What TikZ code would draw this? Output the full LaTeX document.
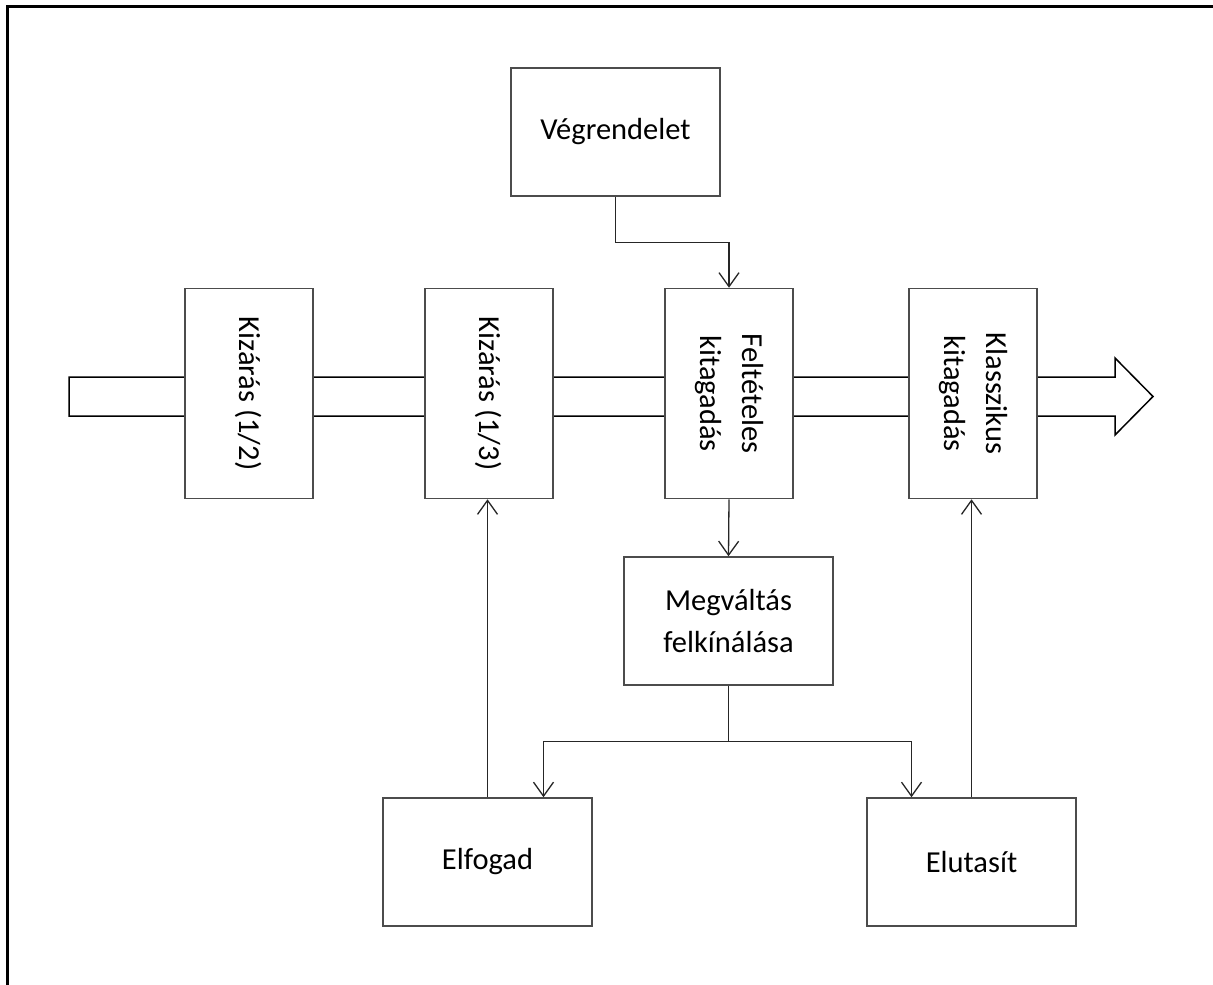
\documentclass[tikz,border=0pt]{standalone}
\usepackage{fontspec}
\setmainfont{Carlito}
\usetikzlibrary{arrows.meta}
\tikzset{
  upbox/.style={rotate=-90,minimum width=210,minimum height=128},
  flatbox/.style={minimum width=209,minimum height=128},
  conn/.style={draw=black!85,line width=1.3pt},
  >={Straight Barb[length=14pt,width=20pt]}
}
\begin{document}
\begin{tikzpicture}[x=1pt,y=-1pt]
  \useasboundingbox (0,0) rectangle (1213,985);
  \draw[line width=3pt] (7.5,985) -- (7.5,6.5) -- (1213,6.5);
  % hollow arrow behind the boxes
  \draw[line width=1.5pt,line join=miter] (69,377) -- (1115,377) -- (1115,358)
    -- (1153,396.5) -- (1115,435) -- (1115,416) -- (69,416) -- cycle;
  \begin{scope}[every node/.style={draw=black!70,line width=1.5pt,fill=white,
      font=\fontsize{30.5}{42}\selectfont,align=center}]
  \node[upbox] (kiz1) at (249,393.5) {Kizárás (1/2)};
  \node[upbox] (kiz2) at (489,393.5) {Kizárás (1/3)};
  \node[upbox] (felt) at (729,393.5) {Feltételes\\kitagadás};
  \node[upbox] (klassz) at (973,393.5) {Klasszikus\\kitagadás};
  \node[flatbox] (vegr) at (615.5,132) {Végrendelet};
  \node[flatbox] (megv) at (728.5,621) {Megváltás\\felkínálása};
  \node[flatbox] (elfog) at (487.5,862) {Elfogad};
  \node[flatbox] (eluta) at (971.5,862) {Elutasít};
  \end{scope}
  % rotated boxes: west is the top, east is the bottom
  \begin{scope}[every edge/.style={conn,->}]
  \path (felt.east) edge (megv.north);
  \path (elfog.north) edge (elfog.north |- kiz2.east);
  \path (eluta.north) edge (eluta.north |- klassz.east);
  \end{scope}
  \draw[conn,->] (vegr.south) -- ++(0,46) -| (felt.west);
  \draw[conn] (megv.south) -- ++(0,56) coordinate (split);
  \draw[conn,->] (split) -| ([xshift=56pt]elfog.north);
  \draw[conn,->] (split) -| ([xshift=-60pt]eluta.north);
\end{tikzpicture}
\end{document}
